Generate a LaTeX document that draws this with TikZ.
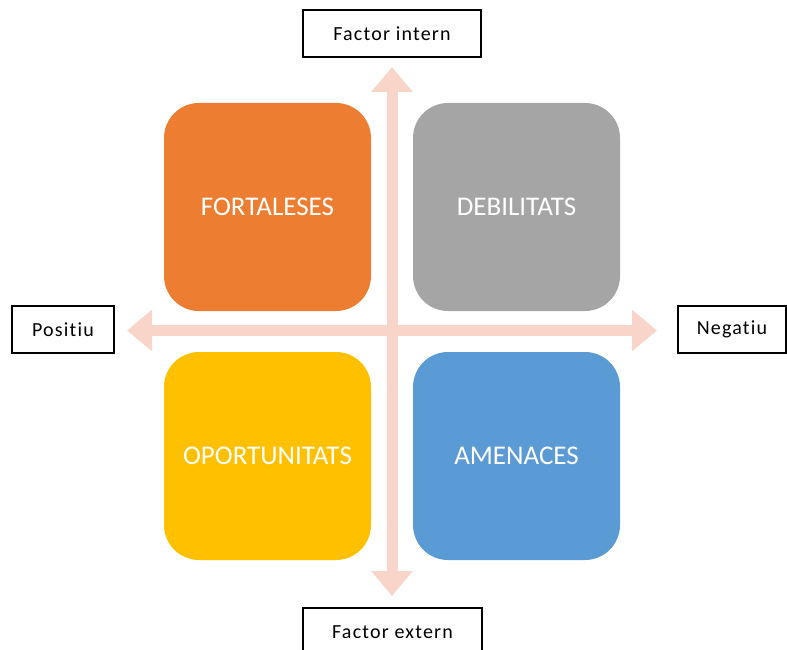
\documentclass[tikz,border=0pt]{standalone}
\usepackage{fontspec}
\setmainfont[Ligatures=NoCommon]{Carlito}
\newfontfamily\lblfont[Ligatures=NoCommon,LetterSpace=6]{Carlito}
\usetikzlibrary{arrows.meta}
\definecolor{cOrange}{HTML}{ED7D31}
\definecolor{cGray}{HTML}{A5A5A5}
\definecolor{cGold}{HTML}{FFC000}
\definecolor{cBlue}{HTML}{5B9BD5}
\definecolor{cAxis}{HTML}{F8D5C8}
\tikzset{
  quad/.style={rounded corners=35pt, minimum width=207pt, minimum height=208pt, inner sep=0pt,
    text=white, font=\fontsize{27}{31}\selectfont},
  lbl/.style={draw=black, line width=1.3pt, fill=white, inner sep=0pt, font=\lblfont\fontsize{20}{24}\selectfont},
  axis/.style={draw=cAxis, line width=11pt, {Triangle[width=40pt,length=25pt]}-{Triangle[width=40pt,length=25pt]}}
}
\begin{document}
\begin{tikzpicture}[x=1pt,y=-1pt]
\useasboundingbox (0,0) rectangle (787,650);
\clip (0,0) rectangle (787,650);
\node[quad, fill=cOrange] (fort) at (267.5,207) {FORTALESES};
\node[quad, fill=cGray] (deb) at (516.5,207) {DEBILITATS};
\node[quad, fill=cGold] (opor) at (267.5,456) {OPORTUNITATS};
\node[quad, fill=cBlue] (amen) at (516.5,456) {AMENACES};
\coordinate (vtop) at (392,67);
\coordinate (vbot) at (392,596);
\coordinate (hleft) at (127,330.5);
\coordinate (hright) at (657,330.5);
\draw[axis] (vtop) -- (vbot);
\draw[axis] (hleft) -- (hright);
\node[lbl, minimum width=178pt, minimum height=47pt] (fint) at (392,33.5) {Factor intern};
\node[lbl, minimum width=102pt, minimum height=47pt] (pos) at (63,329.5) {Positiu};
\node[lbl, minimum width=108pt, minimum height=47pt] (neg) at (732,329.5) {Negatiu};
\node[lbl, minimum width=179pt, minimum height=60pt] (fext) at (392.5,638) {};
\node[font=\lblfont\fontsize{20}{24}\selectfont] (fextt) at (392.5,632) {Factor extern};
\end{tikzpicture}
\end{document}
